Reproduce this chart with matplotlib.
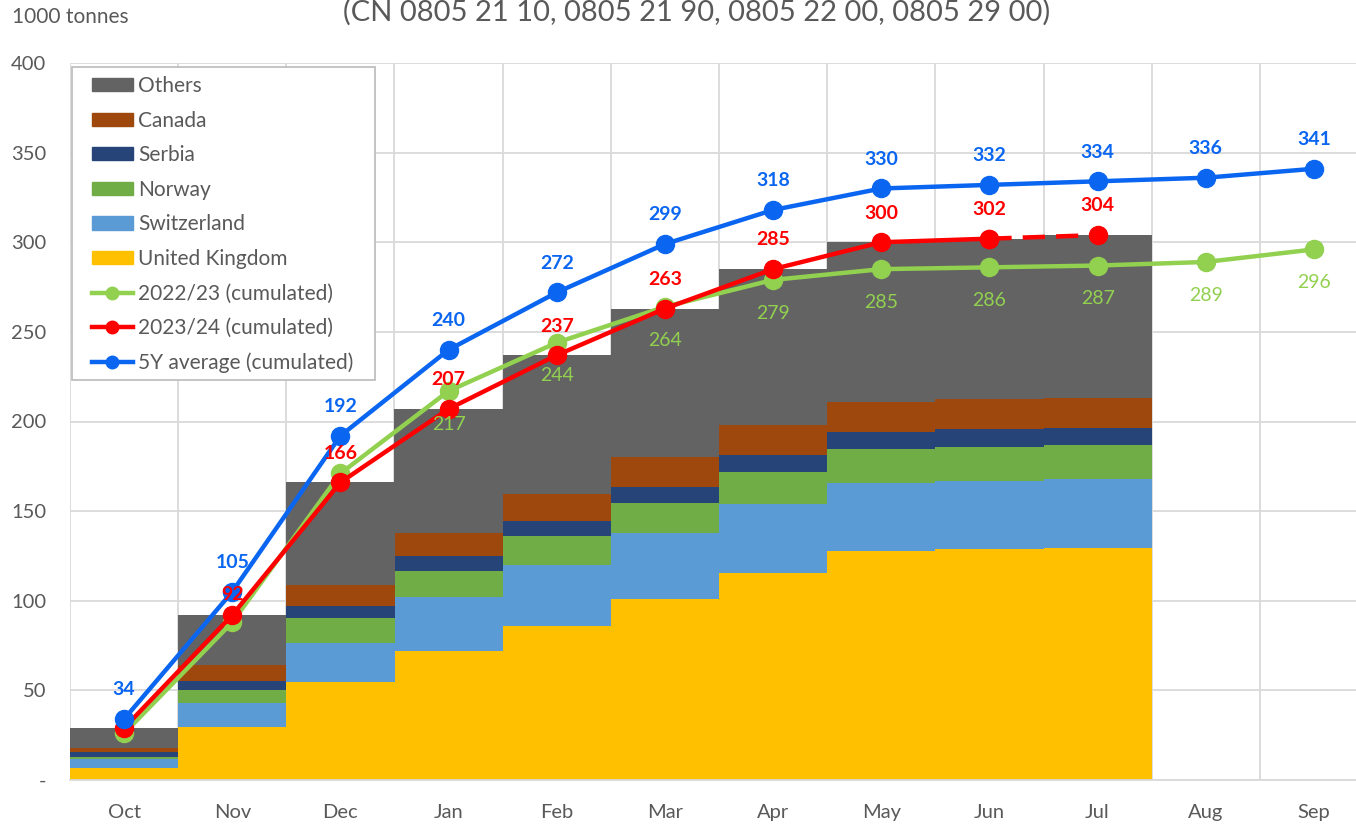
import matplotlib
matplotlib.use("Agg")
import matplotlib.pyplot as plt
from matplotlib.patches import Patch, Rectangle
from matplotlib.lines import Line2D
import numpy as np

plt.rcParams['font.family'] = ['Lato', 'DejaVu Sans']

months = ["Oct", "Nov", "Dec", "Jan", "Feb", "Mar", "Apr", "May", "Jun", "Jul", "Aug", "Sep"]

uk = [6.9, 29.6, 54.5, 72.0, 85.9, 100.8, 115.7, 127.9, 128.9, 129.4]
switzerland = [4.6, 13.2, 21.8, 29.9, 34.2, 36.8, 38.1, 37.8, 37.9, 38.5]
norway = [1.1, 7.4, 14.2, 14.9, 16.0, 17.1, 18.2, 19.0, 19.0, 18.8]
serbia = [3.2, 5.0, 6.7, 8.3, 8.2, 8.9, 9.3, 9.4, 10.0, 9.7]
canada = [2.2, 8.8, 11.6, 12.5, 15.4, 16.6, 16.6, 16.6, 16.6, 16.9]
others = [10.8, 28.0, 57.2, 69.4, 77.3, 82.8, 87.1, 89.3, 89.6, 90.7]

y2223 = [26, 88, 171, 217, 244, 264, 279, 285, 286, 287, 289, 296]
y2324 = [29, 92, 166, 207, 237, 263, 285, 300, 302, 304]
avg5y = [34, 105, 192, 240, 272, 299, 318, 330, 332, 334, 336, 341]

title = "(CN 0805 21 10, 0805 21 90, 0805 22 00, 0805 29 00)"

c_others = "#636363"
c_canada = "#9E480E"
c_serbia = "#264478"
c_norway = "#70AD47"
c_swiss = "#5B9BD5"
c_uk = "#FFC000"
c_green = "#92D050"
c_red = "#FF0000"
c_blue = "#0A66F0"
txt = "#595959"

fig = plt.figure(figsize=(13.56, 8.25), dpi=100)
W, H = 1356, 825
left, right, top, bottom = 70, 1368, 63, 780
ax = fig.add_axes([left / W, 1 - bottom / H, (right - left) / W, (bottom - top) / H])

x = np.arange(len(months))
xb = np.arange(len(uk))
series = [(uk, c_uk, "United Kingdom"), (switzerland, c_swiss, "Switzerland"),
          (norway, c_norway, "Norway"), (serbia, c_serbia, "Serbia"),
          (canada, c_canada, "Canada"), (others, c_others, "Others")]
base = np.zeros(len(uk))
for vals, col, lab in series:
    ax.bar(xb, vals, width=1.0, bottom=base, color=col, zorder=2, linewidth=0)
    base += np.array(vals)

lw = 3.2
ms = 13
ax.plot(x, y2223, color=c_green, lw=lw, marker='o', ms=ms, zorder=4)
ax.plot(xb[:9], y2324[:9], color=c_red, lw=lw, marker='o', ms=ms, zorder=5)
ax.plot(xb[8:10], y2324[8:10], color=c_red, lw=lw, ls=(0, (5, 2.5)), marker='o', ms=ms, zorder=5)
ax.plot(x, avg5y, color=c_blue, lw=lw, marker='o', ms=ms, zorder=6)

fs = 14
for i, v in enumerate(avg5y):
    ax.annotate(f"{v}", (x[i], v), xytext=(0, 21), textcoords='offset points',
                ha='center', va='center', color=c_blue, fontsize=fs, fontweight='bold', zorder=7)
for i, v in enumerate(y2324):
    if i == 0:
        continue
    off = 15 if i == 1 else 21
    ax.annotate(f"{v}", (xb[i], v), xytext=(0, off), textcoords='offset points',
                ha='center', va='center', color=c_red, fontsize=fs, fontweight='bold', zorder=7)
for i, v in enumerate(y2223):
    if i < 3:
        continue
    ax.annotate(f"{v}", (x[i], v), xytext=(0, -24), textcoords='offset points',
                ha='center', va='center', color=c_green, fontsize=fs, zorder=7)

ax.set_xlim(-0.5, 11.5)
ax.set_ylim(0, 400)
ax.set_yticks(np.arange(0, 401, 50))
ax.set_yticklabels(["-"] + [str(v) for v in range(50, 401, 50)])
ax.set_xticks(x)
ax.set_xticklabels(months)
ax.set_xticks(np.arange(-0.5, 11.6, 1.0), minor=True)
ax.tick_params(axis='both', which='both', length=0, colors=txt, labelsize=14.5)
ax.tick_params(axis='x', pad=17)
ax.tick_params(axis='y', pad=17)
ax.grid(axis='y', which='major', color='#D9D9D9', lw=1.3, zorder=0)
ax.grid(axis='x', which='minor', color='#D9D9D9', lw=1.3, zorder=0)
ax.set_axisbelow(True)
for s in ['top', 'right']:
    ax.spines[s].set_visible(False)
ax.spines['left'].set_visible(False)
ax.spines['bottom'].set_color('#D9D9D9')
ax.spines['bottom'].set_linewidth(1.3)

handles = [Patch(color=c_others, label="Others"),
           Patch(color=c_canada, label="Canada"),
           Patch(color=c_serbia, label="Serbia"),
           Patch(color=c_norway, label="Norway"),
           Patch(color=c_swiss, label="Switzerland"),
           Patch(color=c_uk, label="United Kingdom"),
           Line2D([], [], color=c_green, lw=lw, marker='o', ms=9, label="2022/23 (cumulated)"),
           Line2D([], [], color=c_red, lw=lw, marker='o', ms=9, label="2023/24 (cumulated)"),
           Line2D([], [], color=c_blue, lw=lw, marker='o', ms=9, label="5Y average (cumulated)")]
leg = ax.legend(handles=handles, loc='upper left',
                bbox_to_anchor=(92 / W, 1 - 76 / H), bbox_transform=fig.transFigure,
                fontsize=15, frameon=False,
                handlelength=1.95, handleheight=0.6, labelspacing=0.70, borderpad=0.0,
                handletextpad=0.25, borderaxespad=0.0)
for t in leg.get_texts():
    t.set_color(txt)
leg.set_zorder(10)
frame = Rectangle((72 / W, 1 - 380 / H), (375 - 72) / W, (380 - 67) / H,
                  transform=fig.transFigure, facecolor='white', edgecolor='#BFBFBF',
                  lw=1.3, zorder=9, clip_on=False)
ax.add_artist(frame)

fig.text(12 / W, 1 - 17 / H, "1000 tonnes", fontsize=15, color=txt, ha='left', va='center')
fig.text(697 / W, 1 - 12 / H, title, fontsize=21, color=txt, ha='center', va='center')

fig.savefig("out.png", dpi=100)
